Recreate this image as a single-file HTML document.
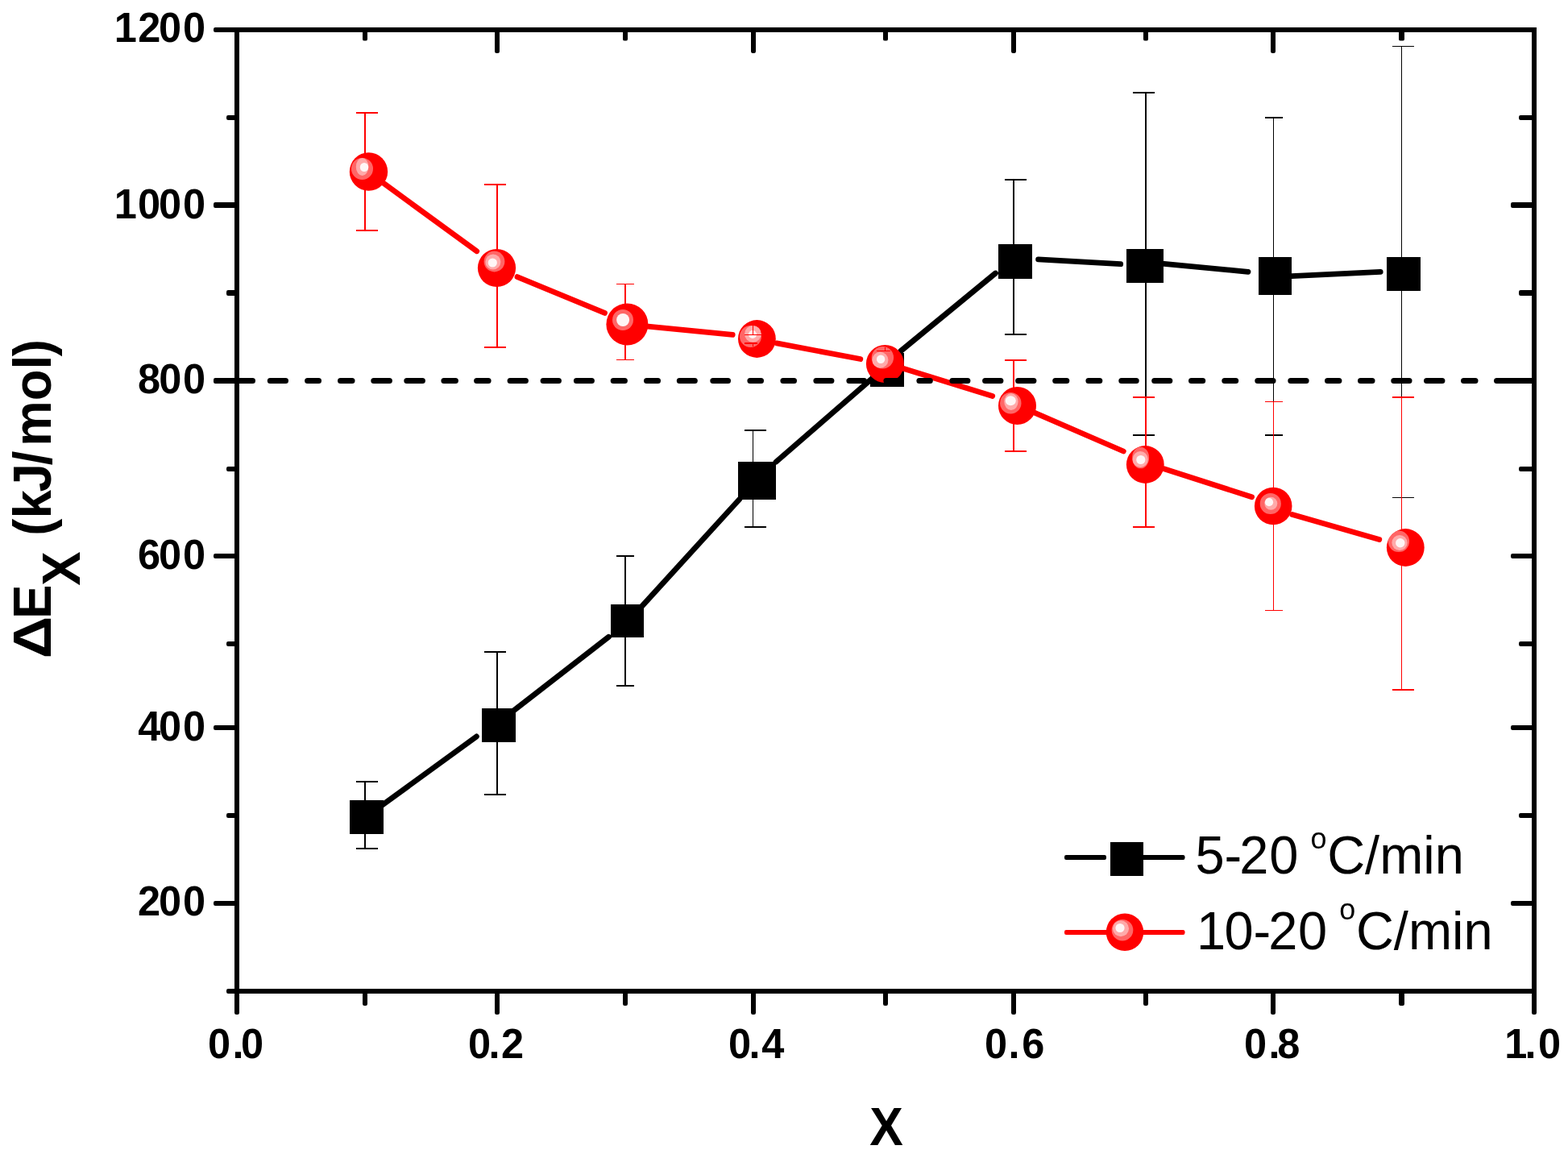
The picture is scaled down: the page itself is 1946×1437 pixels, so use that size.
<!DOCTYPE html>
<html lang="en">
<head>
<meta charset="utf-8">
<title>Activation energy vs. X</title>
<style>
html,body{margin:0;padding:0;background:#fff;}
body{width:1946px;height:1437px;overflow:hidden;}
svg{display:block;}
</style>
</head>
<body>
<svg width="1946" height="1437" viewBox="0 0 1946 1437">
<rect x="0" y="0" width="1946" height="1437" fill="#fff"/>
<g id="series-black">
<g shape-rendering="crispEdges">
<rect x="452" y="970" width="2" height="83.4" fill="#000" />
<rect x="442" y="969" width="27" height="2" fill="#000" />
<rect x="442" y="1052.4" width="27" height="2" fill="#000" />
</g>
<g shape-rendering="crispEdges">
<rect x="616" y="809.4" width="2" height="176.6" fill="#000" />
<rect x="601" y="808.4" width="27" height="2" fill="#000" />
<rect x="601" y="985" width="27" height="2" fill="#000" />
</g>
<g shape-rendering="crispEdges">
<rect x="775" y="689.9" width="2" height="161.2" fill="#000" />
<rect x="765" y="688.9" width="22" height="2" fill="#000" />
<rect x="765" y="850.1" width="22" height="2" fill="#000" />
</g>
<g shape-rendering="crispEdges">
<rect x="934.2" y="534.3" width="1" height="119.5" fill="#000" />
<rect x="924" y="533.3" width="27" height="2" fill="#000" />
<rect x="924" y="652.8" width="27" height="2" fill="#000" />
</g>
<g shape-rendering="crispEdges">
<rect x="1257.2" y="223.4" width="2" height="192" fill="#000" />
<rect x="1247" y="222.4" width="27" height="2" fill="#000" />
<rect x="1247" y="414.4" width="27" height="2" fill="#000" />
</g>
<g shape-rendering="crispEdges">
<rect x="1421" y="115" width="2" height="425.1" fill="#000" />
<rect x="1406" y="114" width="27" height="2" fill="#000" />
<rect x="1406" y="539.1" width="27" height="2" fill="#000" />
</g>
<g shape-rendering="crispEdges">
<rect x="1580" y="145.9" width="1" height="394.1" fill="#000" />
<rect x="1570" y="144.9" width="22" height="2" fill="#000" />
<rect x="1570" y="539" width="22" height="2" fill="#000" />
</g>
<g shape-rendering="crispEdges">
<rect x="1739" y="57.3" width="1" height="560.1" fill="#000" />
<rect x="1728" y="56.8" width="27" height="1" fill="#000" />
<rect x="1728" y="616.9" width="27" height="1" fill="#000" />
</g>
<line x1="470.0" y1="1002.3" x2="591.4" y2="913.9" stroke="#000" stroke-width="6.8" stroke-linecap="round"/>
<line x1="635.0" y1="883.7" x2="755.5" y2="790.3" stroke="#000" stroke-width="6.8" stroke-linecap="round"/>
<line x1="795.0" y1="754.1" x2="918.0" y2="619.3" stroke="#000" stroke-width="6.8" stroke-linecap="round"/>
<line x1="963.0" y1="573.2" x2="1085.0" y2="467.4" stroke="#000" stroke-width="6.8" stroke-linecap="round"/>
<line x1="1118.0" y1="435.5" x2="1235.5" y2="339.0" stroke="#000" stroke-width="6.8" stroke-linecap="round"/>
<line x1="1288.6" y1="321.9" x2="1390.7" y2="327.7" stroke="#000" stroke-width="6.8" stroke-linecap="round"/>
<line x1="1444.7" y1="327.4" x2="1549.0" y2="337.3" stroke="#000" stroke-width="6.8" stroke-linecap="round"/>
<line x1="1603.0" y1="342.7" x2="1713.2" y2="337.3" stroke="#000" stroke-width="6.8" stroke-linecap="round"/>
<g shape-rendering="crispEdges">
<rect x="434" y="993" width="42" height="42" fill="#000" />
<rect x="598" y="879" width="42" height="42" fill="#000" />
<rect x="758" y="750" width="41" height="41" fill="#000" />
<rect x="916" y="573" width="47" height="47" fill="#000" />
<rect x="1080" y="438" width="42" height="42" fill="#000" />
<rect x="1239" y="303" width="42" height="43" fill="#000" />
<rect x="1398" y="309" width="46" height="42" fill="#000" />
<rect x="1562" y="319" width="41" height="47" fill="#000" />
<rect x="1721" y="319" width="42" height="42" fill="#000" />
</g></g>
<g id="series-red">
<g shape-rendering="crispEdges">
<rect x="452" y="140.4" width="2" height="145.7" fill="#ff0000" />
<rect x="442" y="139.4" width="27" height="2" fill="#ff0000" />
<rect x="442" y="285.1" width="27" height="2" fill="#ff0000" />
</g>
<g shape-rendering="crispEdges">
<rect x="616" y="228.9" width="2" height="202" fill="#ff0000" />
<rect x="601" y="227.9" width="27" height="2" fill="#ff0000" />
<rect x="601" y="429.9" width="27" height="2" fill="#ff0000" />
</g>
<g shape-rendering="crispEdges">
<rect x="775" y="352.8" width="2" height="93.7" fill="#ff0000" />
<rect x="765" y="352.3" width="22" height="1" fill="#ff0000" />
<rect x="765" y="446" width="22" height="1" fill="#ff0000" />
</g>
<g shape-rendering="crispEdges">
<rect x="1257.2" y="446.5" width="2" height="113.8" fill="#ff0000" />
<rect x="1247" y="445.5" width="27" height="2" fill="#ff0000" />
<rect x="1247" y="559.3" width="27" height="2" fill="#ff0000" />
</g>
<g shape-rendering="crispEdges">
<rect x="1421" y="493" width="2" height="161.2" fill="#ff0000" />
<rect x="1406" y="492" width="27" height="2" fill="#ff0000" />
<rect x="1406" y="653.2" width="27" height="2" fill="#ff0000" />
</g>
<g shape-rendering="crispEdges">
<rect x="1580" y="498.4" width="1" height="258.8" fill="#ff0000" />
<rect x="1570" y="497.9" width="22" height="1" fill="#ff0000" />
<rect x="1570" y="756.7" width="22" height="1" fill="#ff0000" />
</g>
<g shape-rendering="crispEdges">
<rect x="1739" y="492.7" width="1" height="363.1" fill="#ff0000" />
<rect x="1728" y="491.7" width="27" height="2" fill="#ff0000" />
<rect x="1728" y="854.8" width="27" height="2" fill="#ff0000" />
</g>
<line x1="471.5" y1="224.1" x2="591.7" y2="311.7" stroke="#ff0000" stroke-width="6.8" stroke-linecap="round"/>
<line x1="642.0" y1="343.6" x2="750.5" y2="388.4" stroke="#ff0000" stroke-width="6.8" stroke-linecap="round"/>
<line x1="804.5" y1="405.1" x2="909.2" y2="415.4" stroke="#ff0000" stroke-width="6.8" stroke-linecap="round"/>
<line x1="963.9" y1="425.9" x2="1067.8" y2="445.5" stroke="#ff0000" stroke-width="6.8" stroke-linecap="round"/>
<line x1="1121.8" y1="457.6" x2="1231.7" y2="491.6" stroke="#ff0000" stroke-width="6.8" stroke-linecap="round"/>
<line x1="1283.3" y1="511.9" x2="1394.3" y2="560.0" stroke="#ff0000" stroke-width="6.8" stroke-linecap="round"/>
<line x1="1444.6" y1="581.8" x2="1553.6" y2="616.8" stroke="#ff0000" stroke-width="6.8" stroke-linecap="round"/>
<line x1="1603.8" y1="638.6" x2="1711.8" y2="669.5" stroke="#ff0000" stroke-width="6.8" stroke-linecap="round"/>
<clipPath id="c0"><circle cx="457.5" cy="213" r="23.7"/></clipPath>
<circle cx="457.5" cy="213" r="23.7" fill="#ff0000"/>
<g clip-path="url(#c0)">
<ellipse cx="449.5" cy="209.4" rx="13.5" ry="13.5" fill="#ff6666"/>
<ellipse cx="449.6" cy="207" rx="7.8" ry="11" fill="#ffaaaa"/>
<ellipse cx="452" cy="207.5" rx="5.2" ry="5.5" fill="#fff6f6"/>
</g>
<clipPath id="c1"><circle cx="616.5" cy="332.5" r="23.6"/></clipPath>
<circle cx="616.5" cy="332.5" r="23.6" fill="#ff0000"/>
<g clip-path="url(#c1)">
<ellipse cx="613.5" cy="324.5" rx="12.9" ry="12.9" fill="#ff6666"/>
<ellipse cx="611.9" cy="325" rx="9.5" ry="9.5" fill="#ffaaaa"/>
<ellipse cx="611.3" cy="326" rx="5.6" ry="5.6" fill="#fff6f6"/>
</g>
<clipPath id="c2"><circle cx="778.4" cy="402.4" r="26"/></clipPath>
<circle cx="778.4" cy="402.4" r="26" fill="#ff0000"/>
<g clip-path="url(#c2)">
<ellipse cx="773" cy="397" rx="13" ry="13" fill="#ff6666"/>
<ellipse cx="773.1" cy="397" rx="8" ry="8" fill="#fff6f6"/>
</g>
<clipPath id="c3"><circle cx="939.4" cy="420.5" r="23.4"/></clipPath>
<circle cx="939.4" cy="420.5" r="23.4" fill="#ff0000"/>
<g clip-path="url(#c3)">
<ellipse cx="931.5" cy="417.5" rx="13.5" ry="13.5" fill="#ff6666"/>
<ellipse cx="934.4" cy="414.4" rx="10.4" ry="10.4" fill="#ffaaaa"/>
<ellipse cx="934" cy="415" rx="5" ry="5" fill="#fff6f6"/>
</g>
<clipPath id="c4"><circle cx="1098.4" cy="451.5" r="23.5"/></clipPath>
<circle cx="1098.4" cy="451.5" r="23.5" fill="#ff0000"/>
<g clip-path="url(#c4)">
<ellipse cx="1095.4" cy="443.8" rx="13.7" ry="13.7" fill="#ff6666"/>
<ellipse cx="1092.4" cy="446.8" rx="10" ry="10" fill="#ffaaaa"/>
<ellipse cx="1093.1" cy="445.7" rx="5.2" ry="5.2" fill="#fff6f6"/>
</g>
<clipPath id="c5"><circle cx="1262.5" cy="503.5" r="23.5"/></clipPath>
<circle cx="1262.5" cy="503.5" r="23.5" fill="#ff0000"/>
<g clip-path="url(#c5)">
<ellipse cx="1254.3" cy="500.2" rx="13.2" ry="13.2" fill="#ff6666"/>
<ellipse cx="1254.9" cy="498.6" rx="8.7" ry="10.3" fill="#ffaaaa"/>
<ellipse cx="1254.3" cy="497.3" rx="6.5" ry="6" fill="#fff6f6"/>
</g>
<clipPath id="c6"><circle cx="1421.3" cy="576.5" r="23.4"/></clipPath>
<circle cx="1421.3" cy="576.5" r="23.4" fill="#ff0000"/>
<g clip-path="url(#c6)">
<ellipse cx="1415.6" cy="568" rx="10.5" ry="13.3" fill="#ff6666"/>
<ellipse cx="1415.2" cy="570" rx="9.6" ry="10" fill="#ffaaaa"/>
<ellipse cx="1415.8" cy="570.5" rx="5.6" ry="5.6" fill="#fff6f6"/>
</g>
<clipPath id="c7"><circle cx="1580.2" cy="628" r="23.3"/></clipPath>
<circle cx="1580.2" cy="628" r="23.3" fill="#ff0000"/>
<g clip-path="url(#c7)">
<ellipse cx="1576.8" cy="625" rx="13.1" ry="13.1" fill="#ff6666"/>
<ellipse cx="1577.3" cy="624.8" rx="8" ry="8" fill="#ffaaaa"/>
<ellipse cx="1575" cy="623.2" rx="5.1" ry="5.1" fill="#fff6f6"/>
</g>
<clipPath id="c8"><circle cx="1744.3" cy="679.5" r="23.4"/></clipPath>
<circle cx="1744.3" cy="679.5" r="23.4" fill="#ff0000"/>
<g clip-path="url(#c8)">
<ellipse cx="1735.9" cy="671.8" rx="13.2" ry="13.2" fill="#ff6666"/>
<ellipse cx="1737" cy="673.5" rx="9.6" ry="9.6" fill="#ffaaaa"/>
<ellipse cx="1737.8" cy="673.7" rx="5.7" ry="5.7" fill="#fff6f6"/>
</g>
<g shape-rendering="crispEdges">
<rect x="934" y="404" width="1" height="11.3" fill="#ff0000" />
<rect x="924" y="414.8" width="21" height="1" fill="#ff0000" />
<rect x="924" y="425.2" width="16" height="1.5" fill="#ff0000" />
<rect x="934" y="426" width="1" height="4" fill="#ff0000" />
<rect x="1098" y="430.8" width="1" height="4.4" fill="#ff0000" />
<rect x="1087.7" y="434.7" width="17.3" height="1" fill="#ff0000" />
</g>
</g>
<g id="refline">
<rect x="294" y="469" width="23" height="7" rx="3.5" ry="3.5" fill="#000"/>
<rect x="331.8" y="469" width="26.2" height="7" rx="3.5" ry="3.5" fill="#000"/>
<rect x="378.1" y="469" width="20.9" height="7" rx="3.5" ry="3.5" fill="#000"/>
<rect x="419" y="469" width="21.5" height="7" rx="3.5" ry="3.5" fill="#000"/>
<rect x="460.3" y="469" width="26.6" height="7" rx="3.5" ry="3.5" fill="#000"/>
<rect x="501.3" y="469" width="26.6" height="7" rx="3.5" ry="3.5" fill="#000"/>
<rect x="547.4" y="469" width="21.5" height="7" rx="3.5" ry="3.5" fill="#000"/>
<rect x="588.1" y="469" width="21.5" height="7" rx="3.5" ry="3.5" fill="#000"/>
<rect x="629.6" y="469" width="26.3" height="7" rx="3.5" ry="3.5" fill="#000"/>
<rect x="670.6" y="469" width="26.3" height="7" rx="3.5" ry="3.5" fill="#000"/>
<rect x="711.9" y="469" width="26" height="7" rx="3.5" ry="3.5" fill="#000"/>
<rect x="757.7" y="469" width="21.2" height="7" rx="3.5" ry="3.5" fill="#000"/>
<rect x="799" y="469" width="21" height="7" rx="3.5" ry="3.5" fill="#000"/>
<rect x="839.8" y="469" width="26" height="7" rx="3.5" ry="3.5" fill="#000"/>
<rect x="881.3" y="469" width="25.7" height="7" rx="3.5" ry="3.5" fill="#000"/>
<rect x="927.4" y="469" width="20.6" height="7" rx="3.5" ry="3.5" fill="#000"/>
<rect x="968.4" y="469" width="20.6" height="7" rx="3.5" ry="3.5" fill="#000"/>
<rect x="1009.4" y="469" width="26" height="7" rx="3.5" ry="3.5" fill="#000"/>
<rect x="1050.4" y="469" width="25.6" height="7" rx="3.5" ry="3.5" fill="#000"/>
<rect x="1096.4" y="469" width="21.2" height="7" rx="3.5" ry="3.5" fill="#000"/>
<rect x="1137.4" y="469" width="20.4" height="7" rx="3.5" ry="3.5" fill="#000"/>
<rect x="1178.4" y="469" width="26" height="7" rx="3.5" ry="3.5" fill="#000"/>
<rect x="1219.1" y="469" width="26.3" height="7" rx="3.5" ry="3.5" fill="#000"/>
<rect x="1260.1" y="469" width="26.3" height="7" rx="3.5" ry="3.5" fill="#000"/>
<rect x="1306.2" y="469" width="21.1" height="7" rx="3.5" ry="3.5" fill="#000"/>
<rect x="1347.4" y="469" width="20.9" height="7" rx="3.5" ry="3.5" fill="#000"/>
<rect x="1388.3" y="469" width="25.4" height="7" rx="3.5" ry="3.5" fill="#000"/>
<rect x="1429.2" y="469" width="26.1" height="7" rx="3.5" ry="3.5" fill="#000"/>
<rect x="1475" y="469" width="21.2" height="7" rx="3.5" ry="3.5" fill="#000"/>
<rect x="1516.3" y="469" width="20.9" height="7" rx="3.5" ry="3.5" fill="#000"/>
<rect x="1557.3" y="469" width="26.2" height="7" rx="3.5" ry="3.5" fill="#000"/>
<rect x="1598.3" y="469" width="26.3" height="7" rx="3.5" ry="3.5" fill="#000"/>
<rect x="1644" y="469" width="21.4" height="7" rx="3.5" ry="3.5" fill="#000"/>
<rect x="1685" y="469" width="21.5" height="7" rx="3.5" ry="3.5" fill="#000"/>
<rect x="1726.3" y="469" width="26.2" height="7" rx="3.5" ry="3.5" fill="#000"/>
<rect x="1767" y="469" width="26.4" height="7" rx="3.5" ry="3.5" fill="#000"/>
<rect x="1813" y="469" width="21.5" height="7" rx="3.5" ry="3.5" fill="#000"/>
<rect x="1854" y="469" width="36" height="7" rx="3.5" ry="3.5" fill="#000"/>
</g>
<g id="axes">
<g shape-rendering="crispEdges">
<rect x="271" y="34" width="1636" height="6" fill="#000" />
</g>
<rect x="265" y="34" width="10" height="6" rx="2.2" ry="2.2" fill="#000"/>
<g shape-rendering="crispEdges">
<rect x="287" y="1227" width="1620" height="6" fill="#000" />
</g>
<rect x="281" y="1227" width="10" height="6" rx="2.2" ry="2.2" fill="#000"/>
<g shape-rendering="crispEdges">
<rect x="291" y="34" width="6" height="1219" fill="#000" />
</g>
<rect x="291" y="1249" width="6" height="10" rx="2.2" ry="2.2" fill="#000"/>
<g shape-rendering="crispEdges">
<rect x="1901" y="34" width="6" height="1219" fill="#000" />
</g>
<rect x="1901" y="1249" width="6" height="10" rx="2.2" ry="2.2" fill="#000"/>
<g shape-rendering="crispEdges">
<rect x="272" y="251" width="22" height="7" fill="#000" />
</g>
<rect x="265" y="251" width="11" height="7" rx="2.2" ry="2.2" fill="#000"/>
<g shape-rendering="crispEdges">
<rect x="1882" y="251" width="22" height="7" fill="#000" />
</g>
<rect x="1875" y="251" width="11" height="7" rx="2.2" ry="2.2" fill="#000"/>
<g shape-rendering="crispEdges">
<rect x="272" y="469" width="22" height="7" fill="#000" />
</g>
<rect x="265" y="469" width="11" height="7" rx="2.2" ry="2.2" fill="#000"/>
<g shape-rendering="crispEdges">
<rect x="1882" y="469" width="22" height="7" fill="#000" />
</g>
<rect x="1875" y="469" width="11" height="7" rx="2.2" ry="2.2" fill="#000"/>
<g shape-rendering="crispEdges">
<rect x="271" y="687" width="23" height="6" fill="#000" />
</g>
<rect x="265" y="687" width="10" height="6" rx="2.2" ry="2.2" fill="#000"/>
<g shape-rendering="crispEdges">
<rect x="1881" y="687" width="23" height="6" fill="#000" />
</g>
<rect x="1875" y="687" width="10" height="6" rx="2.2" ry="2.2" fill="#000"/>
<g shape-rendering="crispEdges">
<rect x="271" y="900" width="23" height="6" fill="#000" />
</g>
<rect x="265" y="900" width="10" height="6" rx="2.2" ry="2.2" fill="#000"/>
<g shape-rendering="crispEdges">
<rect x="1881" y="900" width="23" height="6" fill="#000" />
</g>
<rect x="1875" y="900" width="10" height="6" rx="2.2" ry="2.2" fill="#000"/>
<g shape-rendering="crispEdges">
<rect x="271" y="1118" width="23" height="6" fill="#000" />
</g>
<rect x="265" y="1118" width="10" height="6" rx="2.2" ry="2.2" fill="#000"/>
<g shape-rendering="crispEdges">
<rect x="1881" y="1118" width="23" height="6" fill="#000" />
</g>
<rect x="1875" y="1118" width="10" height="6" rx="2.2" ry="2.2" fill="#000"/>
<g shape-rendering="crispEdges">
<rect x="287" y="143" width="7" height="6" fill="#000" />
</g>
<rect x="281" y="143" width="10" height="6" rx="2.2" ry="2.2" fill="#000"/>
<g shape-rendering="crispEdges">
<rect x="1891" y="143" width="13" height="6" fill="#000" />
</g>
<rect x="1885" y="143" width="10" height="6" rx="2.2" ry="2.2" fill="#000"/>
<g shape-rendering="crispEdges">
<rect x="288" y="360" width="6" height="7" fill="#000" />
</g>
<rect x="281" y="360" width="11" height="7" rx="2.2" ry="2.2" fill="#000"/>
<g shape-rendering="crispEdges">
<rect x="1892" y="360" width="12" height="7" fill="#000" />
</g>
<rect x="1885" y="360" width="11" height="7" rx="2.2" ry="2.2" fill="#000"/>
<g shape-rendering="crispEdges">
<rect x="287" y="579" width="7" height="6" fill="#000" />
</g>
<rect x="281" y="579" width="10" height="6" rx="2.2" ry="2.2" fill="#000"/>
<g shape-rendering="crispEdges">
<rect x="1891" y="579" width="13" height="6" fill="#000" />
</g>
<rect x="1885" y="579" width="10" height="6" rx="2.2" ry="2.2" fill="#000"/>
<g shape-rendering="crispEdges">
<rect x="287" y="796" width="7" height="6" fill="#000" />
</g>
<rect x="281" y="796" width="10" height="6" rx="2.2" ry="2.2" fill="#000"/>
<g shape-rendering="crispEdges">
<rect x="1891" y="796" width="13" height="6" fill="#000" />
</g>
<rect x="1885" y="796" width="10" height="6" rx="2.2" ry="2.2" fill="#000"/>
<g shape-rendering="crispEdges">
<rect x="287" y="1009" width="7" height="6" fill="#000" />
</g>
<rect x="281" y="1009" width="10" height="6" rx="2.2" ry="2.2" fill="#000"/>
<g shape-rendering="crispEdges">
<rect x="1891" y="1009" width="13" height="6" fill="#000" />
</g>
<rect x="1885" y="1009" width="10" height="6" rx="2.2" ry="2.2" fill="#000"/>
<g shape-rendering="crispEdges">
<rect x="1885" y="1227" width="19" height="6" fill="#000" />
</g>
<g shape-rendering="crispEdges">
<rect x="614" y="37" width="6" height="23" fill="#000" />
</g>
<rect x="614" y="56" width="6" height="10" rx="2.2" ry="2.2" fill="#000"/>
<g shape-rendering="crispEdges">
<rect x="614" y="1230" width="6" height="23" fill="#000" />
</g>
<rect x="614" y="1249" width="6" height="10" rx="2.2" ry="2.2" fill="#000"/>
<g shape-rendering="crispEdges">
<rect x="932" y="37" width="6" height="23" fill="#000" />
</g>
<rect x="932" y="56" width="6" height="10" rx="2.2" ry="2.2" fill="#000"/>
<g shape-rendering="crispEdges">
<rect x="932" y="1230" width="6" height="23" fill="#000" />
</g>
<rect x="932" y="1249" width="6" height="10" rx="2.2" ry="2.2" fill="#000"/>
<g shape-rendering="crispEdges">
<rect x="1255" y="37" width="6" height="23" fill="#000" />
</g>
<rect x="1255" y="56" width="6" height="10" rx="2.2" ry="2.2" fill="#000"/>
<g shape-rendering="crispEdges">
<rect x="1255" y="1230" width="6" height="23" fill="#000" />
</g>
<rect x="1255" y="1249" width="6" height="10" rx="2.2" ry="2.2" fill="#000"/>
<g shape-rendering="crispEdges">
<rect x="1577" y="37" width="6" height="23" fill="#000" />
</g>
<rect x="1577" y="56" width="6" height="10" rx="2.2" ry="2.2" fill="#000"/>
<g shape-rendering="crispEdges">
<rect x="1577" y="1230" width="6" height="23" fill="#000" />
</g>
<rect x="1577" y="1249" width="6" height="10" rx="2.2" ry="2.2" fill="#000"/>
<g shape-rendering="crispEdges">
<rect x="450" y="37" width="6" height="7.6" fill="#000" />
</g>
<rect x="450" y="40.6" width="6" height="10" rx="2.2" ry="2.2" fill="#000"/>
<g shape-rendering="crispEdges">
<rect x="450" y="1230" width="6" height="12" fill="#000" />
</g>
<rect x="450" y="1238" width="6" height="10" rx="2.2" ry="2.2" fill="#000"/>
<g shape-rendering="crispEdges">
<rect x="773" y="37" width="6" height="7.6" fill="#000" />
</g>
<rect x="773" y="40.6" width="6" height="10" rx="2.2" ry="2.2" fill="#000"/>
<g shape-rendering="crispEdges">
<rect x="773" y="1230" width="6" height="12" fill="#000" />
</g>
<rect x="773" y="1238" width="6" height="10" rx="2.2" ry="2.2" fill="#000"/>
<g shape-rendering="crispEdges">
<rect x="1096" y="37" width="6" height="7.6" fill="#000" />
</g>
<rect x="1096" y="40.6" width="6" height="10" rx="2.2" ry="2.2" fill="#000"/>
<g shape-rendering="crispEdges">
<rect x="1096" y="1230" width="6" height="12" fill="#000" />
</g>
<rect x="1096" y="1238" width="6" height="10" rx="2.2" ry="2.2" fill="#000"/>
<g shape-rendering="crispEdges">
<rect x="1419" y="37" width="6" height="7.6" fill="#000" />
</g>
<rect x="1419" y="40.6" width="6" height="10" rx="2.2" ry="2.2" fill="#000"/>
<g shape-rendering="crispEdges">
<rect x="1419" y="1230" width="6" height="12" fill="#000" />
</g>
<rect x="1419" y="1238" width="6" height="10" rx="2.2" ry="2.2" fill="#000"/>
<g shape-rendering="crispEdges">
<rect x="1736" y="37" width="7" height="6.6" fill="#000" />
</g>
<rect x="1736" y="39.6" width="7" height="11" rx="2.2" ry="2.2" fill="#000"/>
<g shape-rendering="crispEdges">
<rect x="1736" y="1230" width="7" height="11" fill="#000" />
</g>
<rect x="1736" y="1237" width="7" height="11" rx="2.2" ry="2.2" fill="#000"/>
</g>
<g id="labels" font-family="'Liberation Sans', sans-serif" fill="#000">
<text transform="translate(0 51.7) scale(1 1.04)" x="141.7 171.2 197.0 227.0" y="0" font-size="50.5" font-weight="bold">1200</text>
<text transform="translate(0 270.7) scale(1 1.04)" x="141.7 170.9 196.9 227.0" y="0" font-size="50.5" font-weight="bold">1000</text>
<text transform="translate(0 487.6) scale(1 1.04)" x="171.1 197.2 227.1" y="0" font-size="50.5" font-weight="bold">800</text>
<text transform="translate(0 705.6) scale(1 1.04)" x="171.1 197.0 227.0" y="0" font-size="50.5" font-weight="bold">600</text>
<text transform="translate(0 918.5) scale(1 1.04)" x="171.2 197.0 227.0" y="0" font-size="50.5" font-weight="bold">400</text>
<text transform="translate(0 1135.5) scale(1 1.04)" x="171.1 196.9 227.0" y="0" font-size="50.5" font-weight="bold">200</text>
<text transform="translate(0 1312.6) scale(1 1.04)" x="257.9 288.4 299.1" y="0" font-size="50.5" font-weight="bold">0.0</text>
<text transform="translate(0 1312.6) scale(1 1.04)" x="580.9 606.5 622.0" y="0" font-size="50.5" font-weight="bold">0.2</text>
<text transform="translate(0 1312.6) scale(1 1.04)" x="903.9 929.6 945.2" y="0" font-size="50.5" font-weight="bold">0.4</text>
<text transform="translate(0 1312.6) scale(1 1.04)" x="1221.9 1251.5 1268.2" y="0" font-size="50.5" font-weight="bold">0.6</text>
<text transform="translate(0 1312.6) scale(1 1.04)" x="1543.9 1574.6 1585.3" y="0" font-size="50.5" font-weight="bold">0.8</text>
<text transform="translate(0 1312.6) scale(1 1.04)" x="1867.2 1892.6 1909.0" y="0" font-size="50.5" font-weight="bold">1.0</text>
<text transform="translate(1100 1421.2) scale(0.96 1.04)" font-size="65" font-weight="bold" text-anchor="middle" >X</text>
<text transform="translate(63 817.2) rotate(-90) scale(0.977 1.04)" font-size="65" font-weight="bold"><tspan x="0" y="0" textLength="53.6" lengthAdjust="spacingAndGlyphs">Δ</tspan><tspan x="50.4" y="0">E</tspan><tspan x="92.7" y="34.6">X</tspan><tspan x="138.1" y="0" dx="0 0 0 -2.5 -2 6 0 0 -1.5"> (kJ/mol)</tspan></text>
<text transform="translate(0 1084.2) scale(1 1.025)" font-size="65" font-weight="normal"><tspan x="1483.4" y="0" dx="0 0 -3 1">5-20 </tspan><tspan x="1626.4" y="-30.8" font-size="36">o</tspan><tspan x="1647.2" y="0">C/min</tspan></text>
<text transform="translate(0 1178.4) scale(1 1.025)" font-size="65" font-weight="normal"><tspan x="1485" y="0" dx="0 -1.7 0 -3 0.6">10-20 </tspan><tspan x="1662.3" y="-36.1" font-size="36">o</tspan><tspan x="1682.9" y="0">C/min</tspan></text>
</g>
<g id="legend">
<g shape-rendering="crispEdges">
<rect x="1327" y="1061" width="40" height="6" fill="#000" />
</g>
<rect x="1321" y="1061" width="10" height="6" rx="2.2" ry="2.2" fill="#000"/>
<rect x="1363" y="1061" width="10" height="6" rx="2.2" ry="2.2" fill="#000"/>
<g shape-rendering="crispEdges">
<rect x="1419" y="1061" width="45.5" height="6" fill="#000" />
</g>
<rect x="1460.5" y="1061" width="10" height="6" rx="2.2" ry="2.2" fill="#000"/>
<g shape-rendering="crispEdges">
<rect x="1378" y="1045" width="41" height="42" fill="#000" />
</g>
<g shape-rendering="crispEdges">
<rect x="1327" y="1154" width="137.5" height="6" fill="#ff0000" />
</g>
<rect x="1321" y="1154" width="10" height="6" rx="2.2" ry="2.2" fill="#ff0000"/>
<rect x="1460.5" y="1154" width="10" height="6" rx="2.2" ry="2.2" fill="#ff0000"/>
<clipPath id="cl"><circle cx="1396" cy="1156.8" r="23.3"/></clipPath>
<circle cx="1396" cy="1156.8" r="23.3" fill="#ff0000"/>
<g clip-path="url(#cl)">
<ellipse cx="1393" cy="1154.2" rx="13.3" ry="13.3" fill="#ff6666"/>
<ellipse cx="1391" cy="1152.2" rx="10" ry="10" fill="#ffaaaa"/>
<ellipse cx="1390" cy="1151.5" rx="5.6" ry="5.6" fill="#fff6f6"/>
</g>
</g>
</svg>
</body>
</html>
